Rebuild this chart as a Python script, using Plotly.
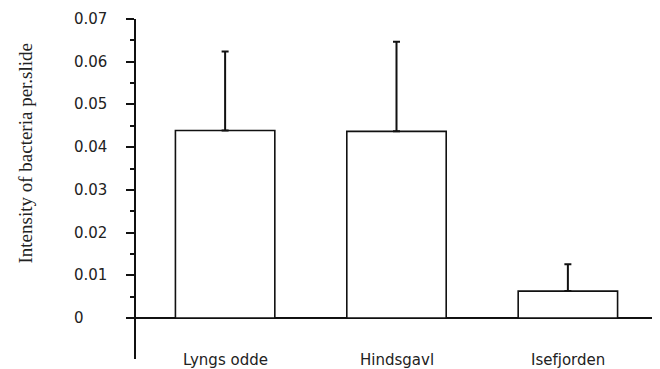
import plotly.graph_objects as go

categories = ["Lyngs odde", "Hindsgavl", "Isefjorden"]
means = [0.0439, 0.0437, 0.0063]
errors_up = [0.0185, 0.0210, 0.0063]
ytick_vals = [0, 0.01, 0.02, 0.03, 0.04, 0.05, 0.06, 0.07]
ytick_text = ["0", "0.01", "0.02", "0.03", "0.04", "0.05", "0.06", "0.07"]
yminor_vals = [0.005, 0.015, 0.025, 0.035, 0.045, 0.055, 0.065]
y_title = "Intensity of bacteria per.slide"

xpos = list(range(len(categories)))

fig = go.Figure()
fig.add_trace(go.Bar(
    x=xpos, y=means, width=0.58,
    marker=dict(color="white", line=dict(color="#111", width=1.6)),
    error_y=dict(type="data", array=errors_up, arrayminus=[0] * len(errors_up),
                 symmetric=False, color="#111", thickness=2, width=3.5),
    showlegend=False, hoverinfo="skip",
))

annotations = []
for v, t in zip(ytick_vals, ytick_text):
    annotations.append(dict(x=0, xref="paper", xshift=-64, y=v, yref="y",
                            text=t, showarrow=False, xanchor="left", yanchor="middle",
                            font=dict(family="DejaVu Sans", size=15, color="#222")))
for i, c in enumerate(categories):
    annotations.append(dict(x=i, xref="x", y=0, yref="paper", yshift=-1, text=c,
                            showarrow=False, xanchor="center", yanchor="middle",
                            font=dict(family="DejaVu Sans", size=15, color="#222")))
annotations.append(dict(x=0, xref="paper", xshift=-110, y=0.0385, yref="y",
                        text=y_title, textangle=-90, showarrow=False,
                        xanchor="center", yanchor="middle",
                        font=dict(family="Liberation Serif", size=19, color="#222")))

fig.update_layout(
    width=660, height=369,
    margin=dict(l=128, r=11, t=11, b=18),
    paper_bgcolor="white", plot_bgcolor="white",
    annotations=annotations,
    xaxis=dict(range=[-0.52, 2.52], showticklabels=False, showline=False,
               showgrid=False, zeroline=False, ticks=""),
    yaxis=dict(range=[-0.0096, 0.07], showline=True, linecolor="#111", linewidth=2,
               showgrid=False, zeroline=True, zerolinecolor="#111", zerolinewidth=1.6,
               tickmode="array", tickvals=ytick_vals, showticklabels=False,
               ticks="outside", ticklen=8, tickwidth=1.6, tickcolor="#111",
               minor=dict(tickmode="array", tickvals=yminor_vals, ticks="outside",
                          ticklen=4, tickwidth=1.5, tickcolor="#111", showgrid=False)),
)

fig.write_html("out.html")
